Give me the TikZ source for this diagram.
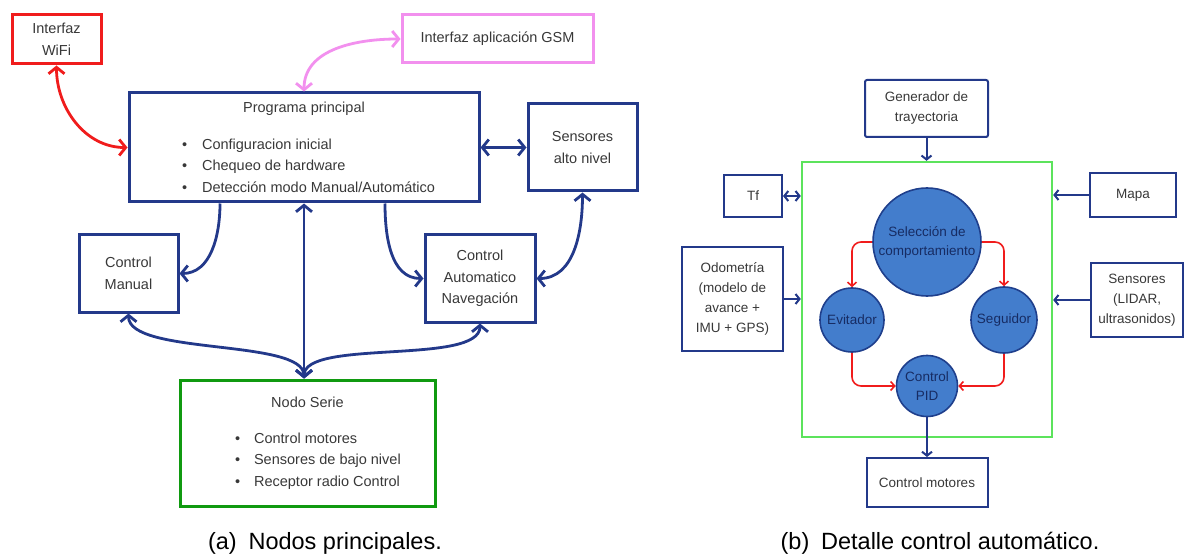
\documentclass[tikz,border=0pt]{standalone}
\usepackage{fontspec}
\setmainfont{Liberation Sans}
\usepackage{tikz}
\usetikzlibrary{arrows.meta,positioning}
\definecolor{navy}{HTML}{23398A}
\definecolor{wred}{HTML}{F01C1C}
\definecolor{gsmpink}{HTML}{F290EE}
\definecolor{dgreen}{HTML}{109A10}
\definecolor{lgreen}{HTML}{5CE35C}
\definecolor{cfill}{HTML}{437DCC}
\definecolor{cline}{HTML}{1F3F8C}
\definecolor{ctext}{HTML}{172C63}
\definecolor{txtgray}{HTML}{383838}
\tikzset{
  box/.style={draw=navy, line width=3pt, inner sep=0pt, align=center,
    text=txtgray, font=\fontsize{14.5}{21.5}\selectfont},
  wbox/.style={box, draw=wred},
  gsmbox/.style={box, draw=gsmpink},
  serbox/.style={box, draw=dgreen},
  sbox/.style={draw=navy, line width=2pt, inner sep=0pt, align=center,
    text=txtgray, font=\fontsize{13.5}{20}\selectfont},
  ctlframe/.style={draw=lgreen, line width=2.4pt, minimum width=250pt, minimum height=275pt},
  circ/.style={circle, draw=cline, line width=1.6pt, fill=cfill, inner sep=0pt,
    align=center, text=ctext, font=\fontsize{13.5}{19}\selectfont},
  link/.style={draw=navy, line width=2.8pt, >={Straight Barb[length=6.5pt,width=16pt]}},
  wlink/.style={link, draw=wred},
  plink/.style={link, draw=gsmpink},
  slink/.style={draw=navy, line width=2pt, >={Straight Barb[length=4pt,width=10pt]}},
  rlink/.style={draw=wred, line width=1.6pt, rounded corners=9pt, >={Straight Barb[length=4pt,width=9pt]}},
  captxt/.style={font=\fontsize{23.5}{28}\selectfont}
}

\begin{document}
\begin{tikzpicture}[x=1pt, y=1pt]
  \useasboundingbox (0,0) rectangle (1184,-556);

  % (a) nodos principales
  \node[wbox, minimum width=89pt, minimum height=49pt] (wifi) at (56.5,-39.5) {Interfaz\\WiFi};
  \node[gsmbox, minimum width=191pt, minimum height=48pt] (gsm) at (497.5,-39) {Interfaz aplicación GSM};
  \node[box, minimum width=350pt, minimum height=109pt] (prog) at (304,-147.5) {%
    \begin{minipage}{350pt}\centering Programa principal\par\vspace{15pt}
    \raggedright\leftskip=53pt
    \textbullet\hspace{15pt}Configuracion inicial\par
    \textbullet\hspace{15pt}Chequeo de hardware\par
    \textbullet\hspace{15pt}Detección modo Manual/Automático\end{minipage}};
  \node[box, minimum width=109pt, minimum height=87pt] (sen) at (582.5,-147.5) {Sensores\\alto nivel};
  \node[box, minimum width=99pt, minimum height=77pt] (cman) at (128.5,-273.5) {Control\\Manual};
  \node[box, minimum width=110pt, minimum height=87pt] (caut) at (480,-278.5) {Control\\Automatico\\Navegación};
  \node[serbox, minimum width=255pt, minimum height=126pt] (nodo) at (307.5,-443) {%
    \begin{minipage}{255pt}\centering Nodo Serie\par\vspace{14.5pt}
    \raggedright\leftskip=55pt
    \textbullet\hspace{14pt}Control motores\par
    \textbullet\hspace{14pt}Sensores de bajo nivel\par
    \textbullet\hspace{14pt}Receptor radio Control\end{minipage}};
  \node[captxt] (capa) at (325,-543) {(a)\enspace Nodos principales.};

  \draw[wlink,<->] (wifi.south) to[out=-90,in=180] (prog.west);
  \draw[plink,<->] (gsm.west) to[out=180,in=90] (prog.north);
  \draw[link,<->] (prog.east) -- (sen.west);
  \draw[link,->] ([xshift=-84pt]prog.south) to[out=-90,in=0] (cman.east);
  \draw[link,->] ([xshift=81pt]prog.south) to[out=-90,in=180] (caut.west);
  \draw[link,<->] (sen.south) to[out=-90,in=0] (caut.east);
  \draw[link,<->] (prog.south) -- (prog.south |- nodo.north);
  \draw[link,<->] (cman.south) .. controls +(0,-42) and +(0,40) .. (prog.south |- nodo.north);
  \draw[link,<->] (caut.south) .. controls +(0,-42) and +(0,40) .. (prog.south |- nodo.north);

  % (b) detalle control automatico
  \node[sbox, rounded corners=2pt, minimum width=123pt, minimum height=57pt] (gen) at (926.5,-108.5) {Generador de\\trayectoria};
  \node[sbox, minimum width=58pt, minimum height=42pt] (tf) at (753,-196) {Tf};
  \node[sbox, minimum width=101pt, minimum height=104pt] (odo) at (732.5,-299) {Odometría\\(modelo de\\avance +\\IMU + GPS)};
  \node[sbox, minimum width=86pt, minimum height=44pt] (mapa) at (1133,-195) {Mapa};
  \node[sbox, minimum width=92pt, minimum height=74pt] (sder) at (1137,-300) {Sensores\\(LIDAR,\\ultrasonidos)};
  \node[ctlframe] (ctl) at (927,-299.5) {};
  \node[circ, minimum size=108pt] (sel) at (927,-242) {Selección de\\comportamiento};
  \node[circ, minimum size=64pt] (evi) at (852,-320) {Evitador};
  \node[circ, minimum size=66pt] (seg) at (1004,-320) {Seguidor};
  \node[circ, minimum size=61pt] (pid) at (927,-386) {Control\\PID};
  \node[sbox, minimum width=121pt, minimum height=49pt] (cmot) at (927,-482.5) {Control motores};
  \node[captxt] (capb) at (940,-543) {(b)\enspace Detalle control automático.};

  \draw[slink,->] (gen.south) -- (gen.south |- ctl.north);
  \draw[slink,<->] (tf.east) -- (tf.east -| ctl.west);
  \draw[slink,->] (odo.east) -- (odo.east -| ctl.west);
  \draw[slink,->] (mapa.west) -- (mapa.west -| ctl.east);
  \draw[slink,->] (sder.west) -- (sder.west -| ctl.east);
  \draw[slink,->] (pid.south) -- (cmot.north);
  \draw[rlink,->] (sel.west) -| (evi.north);
  \draw[rlink,->] (sel.east) -| (seg.north);
  \draw[rlink,->] (evi.south) |- (pid.west);
  \draw[rlink,->] (seg.south) |- (pid.east);
\end{tikzpicture}
\end{document}
